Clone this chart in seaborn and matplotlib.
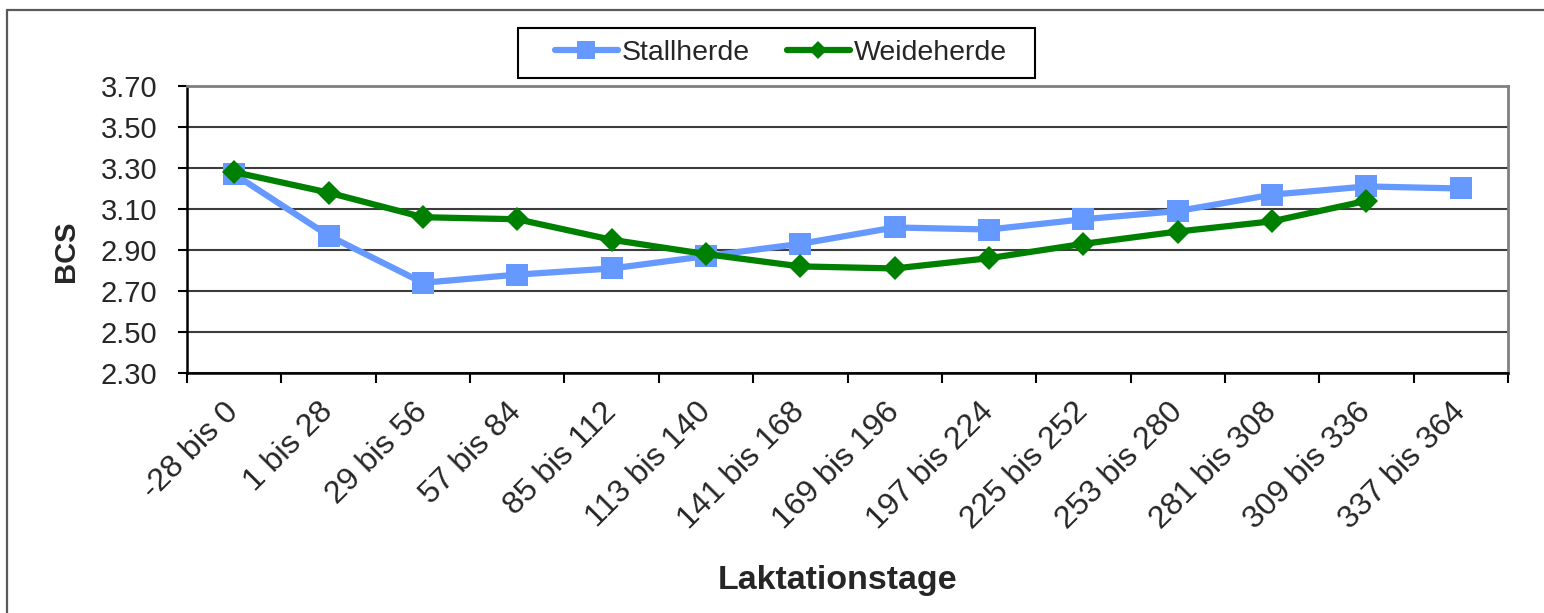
import matplotlib
matplotlib.use("Agg")
import numpy as np
import pandas as pd
import seaborn as sns
import matplotlib.pyplot as plt
from matplotlib.lines import Line2D
from matplotlib.patches import Rectangle

# Lactation-day classes and mean body condition score per herd
categories = ["-28 bis 0", "1 bis 28", "29 bis 56", "57 bis 84", "85 bis 112",
              "113 bis 140", "141 bis 168", "169 bis 196", "197 bis 224",
              "225 bis 252", "253 bis 280", "281 bis 308", "309 bis 336",
              "337 bis 364"]
stallherde = [3.27, 2.97, 2.74, 2.78, 2.81, 2.87, 2.93, 3.01, 3.00, 3.05,
              3.09, 3.17, 3.21, 3.20]
weideherde = [3.28, 3.18, 3.06, 3.05, 2.95, 2.88, 2.82, 2.81, 2.86, 2.93,
              2.99, 3.04, 3.14, np.nan]
series_names = ["Stallherde", "Weideherde"]
y_ticks = [2.30, 2.50, 2.70, 2.90, 3.10, 3.30, 3.50, 3.70]

BLUE = "#6699FF"
GREEN = "#008000"

sns.set_style("white")
plt.rcParams["font.family"] = ["Liberation Sans", "DejaVu Sans"]

W, H = 1544, 613
fig = plt.figure(figsize=(W / 100, H / 100), dpi=100)
fig.patch.set_facecolor("white")

# plot area in pixel terms
L, R, T, B = 187, 1508, 86, 373
ax = fig.add_axes([L / W, 1 - B / H, (R - L) / W, (B - T) / H])

pos = np.arange(len(categories))
df = pd.DataFrame({"pos": pos, series_names[0]: stallherde,
                   series_names[1]: weideherde})

sns.lineplot(data=df, x="pos", y=series_names[0], ax=ax, color=BLUE,
             linewidth=4.5, marker="s", markersize=16.5, markeredgecolor=BLUE,
             markeredgewidth=0, legend=False, zorder=3)
sns.lineplot(data=df.dropna(), x="pos", y=series_names[1], ax=ax, color=GREEN,
             linewidth=4.5, marker="D", markersize=12.5, markeredgecolor=GREEN,
             markeredgewidth=0, legend=False, zorder=4)

ax.set_xlim(-0.5, len(categories) - 0.5)
ax.set_ylim(2.30, 3.70)

# y axis
ax.set_yticks(y_ticks)
ax.set_yticklabels([f"{v:.2f}" for v in y_ticks], fontsize=21)
ax.tick_params(axis="y", direction="out", length=6.5, width=1.5,
               color="black", pad=15, left=True)

# x axis: labels at category centres, ticks on category boundaries
ax.set_xticks(pos)
ax.set_xticklabels(categories, fontsize=23, rotation=45, ha="right",
                   va="center", rotation_mode="anchor")
ax.tick_params(axis="x", which="major", length=0, pad=25)
ax.set_xticks(np.arange(-0.5, len(categories), 1.0), minor=True)
ax.tick_params(axis="x", which="minor", direction="out", length=7.5,
               width=1.5, color="black", bottom=True)

# horizontal gridlines
ax.set_axisbelow(True)
ax.yaxis.grid(True, color="#3c3c3c", linewidth=1.5)
ax.xaxis.grid(False)

for side in ("left", "bottom"):
    ax.spines[side].set_color("black")
    ax.spines[side].set_linewidth(1.8)
for side in ("top", "right"):
    ax.spines[side].set_color("#808080")
    ax.spines[side].set_linewidth(2.0)

ax.set_xlabel("Laktationstage", fontsize=24.5, fontweight="bold")
ax.xaxis.set_label_coords((838 - L) / (R - L), -(580 - B) / (B - T))
ax.xaxis.label.set_va("center")
ax.set_ylabel("BCS", fontsize=21, fontweight="bold")
ax.yaxis.set_label_coords((66 - L) / (R - L), (B - 251) / (B - T))
ax.yaxis.label.set_va("center")

# legend entries (frameless) inside a drawn box
handles = [
    Line2D([], [], color=BLUE, linewidth=4.5, marker="s", markersize=13,
           markeredgecolor=BLUE, markeredgewidth=0),
    Line2D([], [], color=GREEN, linewidth=4.5, marker="D", markersize=9,
           markeredgecolor=GREEN, markeredgewidth=0),
]
fig.legend(handles, series_names, loc="center",
           bbox_to_anchor=(781 / W, 1 - 53 / H), ncol=2, fontsize=20.5,
           frameon=False, handlelength=2.2, handletextpad=0.15,
           columnspacing=1.3, borderpad=0.35, borderaxespad=0)
fig.add_artist(Rectangle((518 / W, 1 - 78 / H), (1035 - 518) / W, 50 / H,
                         transform=fig.transFigure, fill=False,
                         edgecolor="black", linewidth=1.5))

# outer chart frame (left and top edges)
fig.add_artist(Line2D([7 / W, 7 / W], [0, 1 - 10 / H],
                      transform=fig.transFigure, color="#5a5a5a", linewidth=1.6))
fig.add_artist(Line2D([7 / W, 1], [1 - 10 / H, 1 - 10 / H],
                      transform=fig.transFigure, color="#5a5a5a", linewidth=1.6))

fig.savefig("out.png", dpi=100, facecolor="white")
